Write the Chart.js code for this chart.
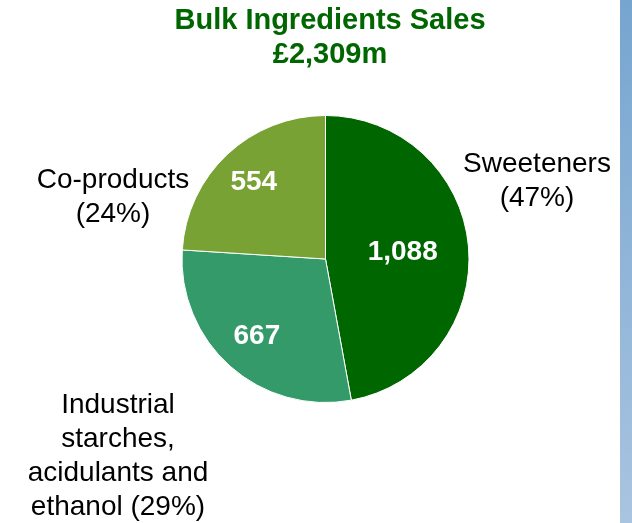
<!DOCTYPE html>
<html>
<head>
<meta charset="utf-8">
<script src="https://cdn.jsdelivr.net/npm/chart.js@4.4.1/dist/chart.umd.min.js"></script>
<style>
  html, body { margin: 0; padding: 0; background: #fff; }
  #wrap { position: relative; width: 632px; height: 523px; }
  #barra {
    position: absolute; left: 620px; top: 0; width: 12px; height: 523px;
    background: linear-gradient(to bottom, #76a5cf, #a9c4e0);
  }
</style>
</head>
<body>
<div id="wrap">
  <canvas id="myChart" width="632" height="523"></canvas>
  <div id="barra"></div>
</div>
<script>
// datos del grafico
const categorias = ["Sweeteners", "Industrial starches, acidulants and ethanol", "Co-products"];
const ventas = [1088, 667, 554];
const porcentajes = [47, 29, 24];
const titulo = ["Bulk Ingredients Sales", "£2,309m"];

const colores = ["#006600", "#349a69", "#78a233"];
const fuente = "'Liberation Sans', Arial, sans-serif";

// etiquetas de afuera (lineas de texto por categoria)
const etiquetasFuera = [
  { lineas: ["Sweeteners", "(" + porcentajes[0] + "%)"], x: 537, y: 172 },
  { lineas: ["Industrial", "starches,", "acidulants and", "ethanol (" + porcentajes[1] + "%)"], x: 118, y: 413 },
  { lineas: ["Co-products", "(" + porcentajes[2] + "%)"], x: 113, y: 188 },
];
const radioEtiqueta = [0.54, 0.72, 0.73]; // fraccion del radio para los numeros

const textosPlugin = {
  id: "textos",
  afterDraw(chart) {
    const c = chart.ctx;
    c.save();
    // titulo
    c.fillStyle = "#006600";
    c.font = "bold 29px " + fuente;
    c.textAlign = "center";
    c.textBaseline = "alphabetic";
    c.fillText(titulo[0], 330, 29);
    c.fillText(titulo[1], 330, 63);

    // numeros dentro de cada tajada
    const meta = chart.getDatasetMeta(0);
    c.font = "bold 28px " + fuente;
    c.fillStyle = "#ffffff";
    c.textBaseline = "middle";
    meta.data.forEach((arc, i) => {
      const mid = (arc.startAngle + arc.endAngle) / 2;
      const r = arc.outerRadius * radioEtiqueta[i];
      const x = arc.x + Math.cos(mid) * r;
      const y = arc.y + Math.sin(mid) * r;
      c.fillText(ventas[i].toLocaleString("en-GB"), x, y);
    });

    // etiquetas de afuera
    c.font = "28px " + fuente;
    c.fillStyle = "#000000";
    c.textBaseline = "alphabetic";
    etiquetasFuera.forEach((et) => {
      et.lineas.forEach((linea, j) => {
        c.fillText(linea, et.x, et.y + j * 34);
      });
    });
    c.restore();
  },
};

const ctx = document.querySelector("#myChart");
const grafica = new Chart(ctx, {
  type: "pie",
  data: {
    labels: categorias,
    datasets: [
      {
        data: ventas,
        backgroundColor: colores,
        borderColor: "#ffffff",
        borderWidth: 1,
      },
    ],
  },
  options: {
    responsive: false,
    animation: false,
    layout: { padding: { left: 181, right: 162, top: 115, bottom: 120 } },
    plugins: {
      legend: { display: false },
      tooltip: { enabled: false },
      title: { display: false },
    },
  },
  plugins: [textosPlugin],
});
</script>
</body>
</html>
